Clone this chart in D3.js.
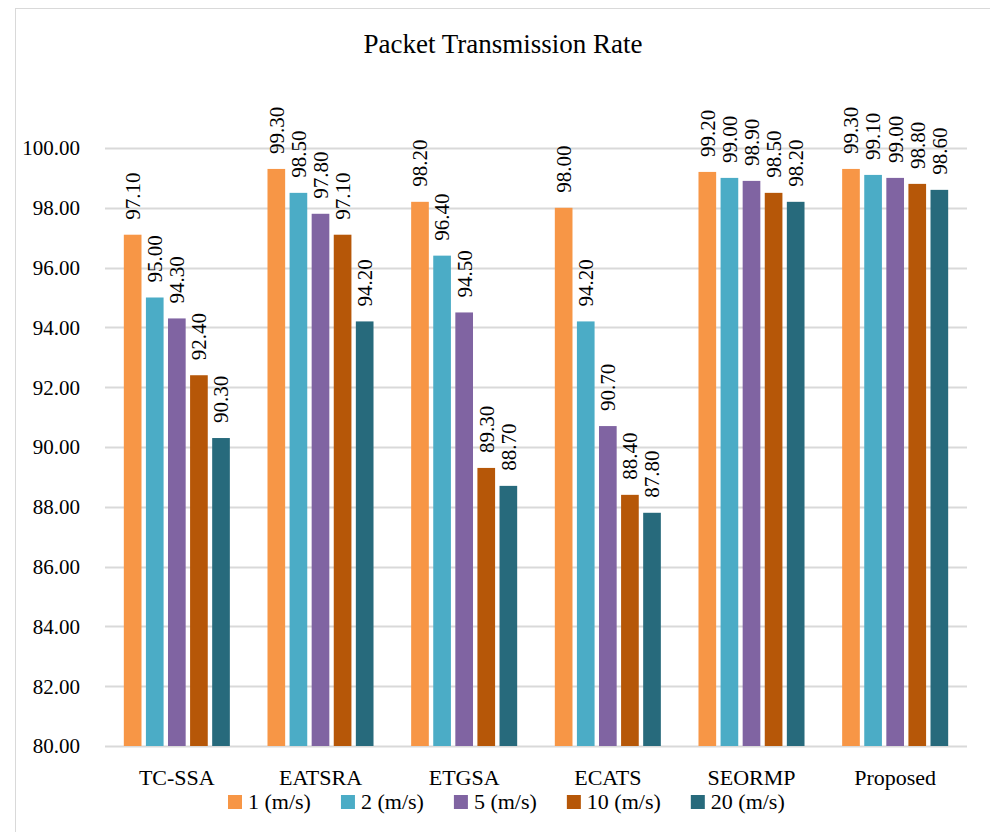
<!DOCTYPE html>
<html>
<head>
<meta charset="utf-8">
<script src="https://cdn.jsdelivr.net/npm/d3@7"></script>
<style>
  body { margin: 0; background: #fff; }
</style>
</head>
<body>
<script>
// chart values
const categories = ['TC-SSA', 'EATSRA', 'ETGSA', 'ECATS', 'SEORMP', 'Proposed'];
const seriesNames = ['1 (m/s)', '2 (m/s)', '5 (m/s)', '10 (m/s)', '20 (m/s)'];
const speed1 = [97.1, 99.3, 98.2, 98.0, 99.2, 99.3];
const speed2 = [95.0, 98.5, 96.4, 94.2, 99.0, 99.1];
const speed5 = [94.3, 97.8, 94.5, 90.7, 98.9, 99.0];
const speed10 = [92.4, 97.1, 89.3, 88.4, 98.5, 98.8];
const speed20 = [90.3, 94.2, 88.7, 87.8, 98.2, 98.6];
const yTicks = [80, 82, 84, 86, 88, 90, 92, 94, 96, 98, 100];

const colors = ['#F79646', '#4BACC6', '#8064A2', '#B65708', '#276A7C'];
const allSeries = [speed1, speed2, speed5, speed10, speed20];

const W = 990, H = 832;
const plot = { left: 105, right: 967, top: 148, bottom: 746 };
const FONT = "'Liberation Serif', 'DejaVu Serif', serif";

const svg = d3.select('body').append('svg')
              .attr('width', W)
              .attr('height', H)
              .style('font-family', FONT);

// outer frame
svg.append('rect')
   .attr('x', 15.5).attr('y', 8.5)
   .attr('width', 1000).attr('height', 900)
   .attr('fill', '#fff')
   .attr('stroke', '#D9D9D9');

const x0 = d3.scaleBand()
             .domain(categories)
             .range([plot.left, plot.right])
             .paddingInner(0.262)
             .paddingOuter(0.131);
const x1 = d3.scaleBand()
             .domain(seriesNames)
             .range([0, x0.bandwidth()])
             .paddingInner(0.2);
const y = d3.scaleLinear()
            .domain([80, 100])
            .range([plot.bottom, plot.top]);

// gridlines
svg.append('g')
   .selectAll('line')
   .data(yTicks)
   .join('line')
   .attr('x1', plot.left).attr('x2', plot.right)
   .attr('y1', d => Math.round(y(d)) + 0.5)
   .attr('y2', d => Math.round(y(d)) + 0.5)
   .attr('stroke', '#D9D9D9')
   .attr('stroke-width', 2);

// y tick labels
svg.append('g')
   .selectAll('text')
   .data(yTicks)
   .join('text')
   .attr('x', 80)
   .attr('y', d => y(d))
   .attr('dy', '0.35em')
   .attr('text-anchor', 'end')
   .attr('font-family', FONT)
   .attr('font-size', 21)
   .text(d => d.toFixed(2));

// bars
const groups = svg.append('g')
                  .selectAll('g')
                  .data(categories)
                  .join('g')
                  .attr('transform', d => `translate(${x0(d)},0)`);

groups.each(function(cat, ci){
   const g = d3.select(this);
   seriesNames.forEach((s, si) => {
      const v = allSeries[si][ci];
      g.append('rect')
       .attr('x', x1(s))
       .attr('y', y(v))
       .attr('width', x1.bandwidth())
       .attr('height', y(80) - y(v))
       .attr('fill', colors[si]);
      const cx = x1(s) + x1.bandwidth() / 2;
      const ty = y(v) - 15;
      g.append('text')
       .attr('transform', `translate(${cx},${ty}) rotate(-90)`)
       .attr('dy', '0.35em')
       .attr('text-anchor', 'start')
       .attr('font-family', FONT)
       .attr('font-size', 21)
       .text(v.toFixed(2));
   });
});

// category labels
svg.append('g')
   .selectAll('text')
   .data(categories)
   .join('text')
   .attr('x', d => x0(d) + x0.bandwidth() / 2)
   .attr('y', 785)
   .attr('text-anchor', 'middle')
   .attr('font-family', FONT)
   .attr('font-size', 22)
   .text(d => d);

// title
svg.append('text')
   .attr('x', 503)
   .attr('y', 53)
   .attr('text-anchor', 'middle')
   .attr('font-family', FONT)
   .attr('font-size', 27)
   .text('Packet Transmission Rate');

// legend
const legend = svg.append('g');
let lx = 228;
seriesNames.forEach((s, i) => {
   legend.append('rect')
         .attr('x', lx).attr('y', 795)
         .attr('width', 14).attr('height', 14)
         .attr('fill', colors[i]);
   const t = legend.append('text')
                   .attr('x', lx + 20)
                   .attr('y', 809)
                   .attr('font-family', FONT)
                   .attr('font-size', 22)
                   .text(s);
   lx += 20 + t.node().getComputedTextLength() + 30;
});
</script>
</body>
</html>
